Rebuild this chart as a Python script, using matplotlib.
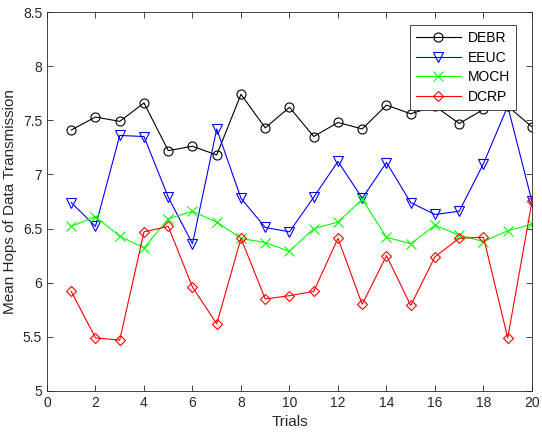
import matplotlib.pyplot as plt
import numpy as np

trials = np.arange(1, 21)

debr = [7.41, 7.53, 7.49, 7.66, 7.22, 7.26, 7.18, 7.74, 7.43, 7.62,
        7.35, 7.48, 7.42, 7.64, 7.56, 7.63, 7.47, 7.60, 7.63, 7.44]
eeuc = [6.74, 6.52, 7.36, 7.35, 6.79, 6.36, 7.42, 6.78, 6.51, 6.47,
        6.79, 7.12, 6.78, 7.11, 6.74, 6.63, 6.66, 7.10, 7.63, 6.75]
moch = [6.52, 6.61, 6.43, 6.32, 6.59, 6.66, 6.56, 6.41, 6.37, 6.29,
        6.50, 6.56, 6.77, 6.42, 6.36, 6.53, 6.44, 6.38, 6.48, 6.54]
dcrp = [5.92, 5.49, 5.47, 6.47, 6.52, 5.96, 5.62, 6.41, 5.85, 5.88,
        5.92, 6.41, 5.80, 6.25, 5.79, 6.24, 6.41, 6.42, 5.49, 6.75]

series = [
    ("DEBR", debr, "black", "o", 6.5),
    ("EEUC", eeuc, "#0000ff", "v", 7),
    ("MOCH", moch, "#00ff00", "x", 6.5),
    ("DCRP", dcrp, "#ff0000", "D", 5.5),
]

plt.rcParams["font.family"] = ["Liberation Sans", "DejaVu Sans"]
axis_color = "#262626"

fig = plt.figure(figsize=(5.42, 4.40), dpi=100)
ax = fig.add_axes([0.0867, 0.1114, 0.8948, 0.8613])

for name, values, color, marker, size in series:
    ax.plot(trials, values, color=color, marker=marker, markersize=size,
            markerfacecolor="none", markeredgecolor=color,
            linewidth=0.8, markeredgewidth=0.8, label=name)

ax.set_xlim(0, 20)
ax.set_ylim(5, 8.5)
ax.set_xticks(np.arange(0, 21, 2))
ax.set_yticks(np.arange(5, 8.51, 0.5))
ax.set_yticklabels(["5", "5.5", "6", "6.5", "7", "7.5", "8", "8.5"])
ax.tick_params(direction="in", top=True, right=True, labelsize=10,
               colors=axis_color, length=4, width=0.6)
for spine in ax.spines.values():
    spine.set_color(axis_color)
    spine.set_linewidth(0.6)

ax.set_xlabel("Trials", fontsize=11, color=axis_color)
ax.set_ylabel("Mean Hops of Data Transmission", fontsize=11, color=axis_color)

leg = ax.legend(loc="upper right", bbox_to_anchor=(0.967, 0.966),
                borderaxespad=0, fontsize=10, fancybox=False, framealpha=1,
                edgecolor=axis_color, handlelength=3.2, borderpad=0.45,
                labelspacing=0.4, handletextpad=0.5)
leg.get_frame().set_linewidth(0.6)

fig.savefig("out.png", dpi=100)
plt.close(fig)
